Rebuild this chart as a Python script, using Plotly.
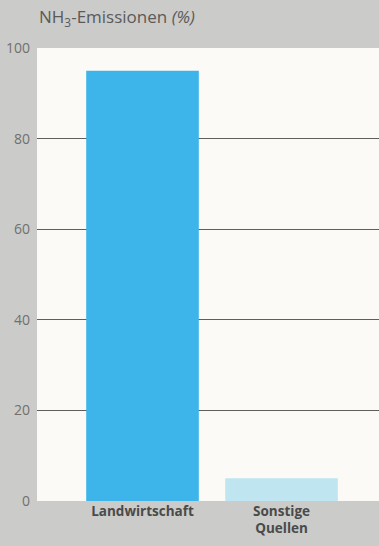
import plotly.graph_objects as go

categories = ["Landwirtschaft", "Sonstige<br>Quellen"]
values = [95, 5]
bar_colors = ["#3db5ea", "#bfe5f1"]
y_ticks = [0, 20, 40, 60, 80, 100]

x_pos = list(range(len(categories)))

fig = go.Figure()
fig.add_trace(go.Bar(
    x=x_pos, y=values, width=0.81,
    marker=dict(color=bar_colors, line=dict(width=0)),
    hoverinfo="skip",
))

fig.update_layout(
    width=379, height=546,
    margin=dict(l=37, r=0, t=48, b=45),
    paper_bgcolor="#cbcbc9",
    plot_bgcolor="#fbfaf7",
    showlegend=False,
    font=dict(family="Open Sans, sans-serif", color="#666666"),
    annotations=[dict(
        text="NH<sub>3</sub>-Emissionen <i>(%)</i>",
        xref="paper", yref="paper", x=0, y=1, xanchor="left", yanchor="bottom",
        yshift=16, showarrow=False, font=dict(size=17, color="#5a5a5a"),
    )],
)
fig.update_xaxes(
    range=[-0.759, 1.701], tickvals=x_pos, ticktext=categories,
    showgrid=False, zeroline=False, showline=False, ticks="",
    tickfont=dict(size=13.5, color="#4a4a4a", weight="bold"),
)
fig.update_yaxes(
    range=[0, 100], tickvals=y_ticks, showgrid=True, gridcolor="#5e5e5e", gridwidth=1,
    zeroline=False, showline=False, ticks="", ticklabelstandoff=6,
    tickfont=dict(size=14, color="#707070"),
)

fig.write_html("out.html", config={"displayModeBar": False},
               post_script="document.body.style.margin='0';")
